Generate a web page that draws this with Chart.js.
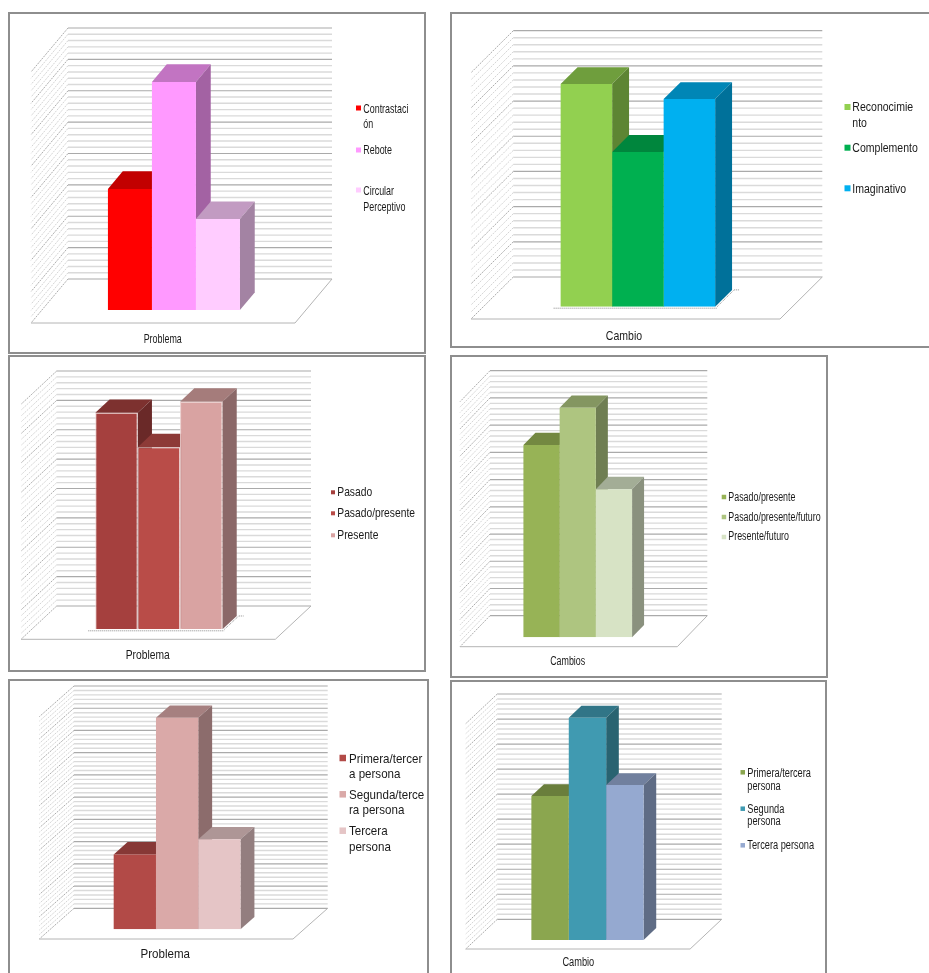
<!DOCTYPE html>
<html>
<head>
<meta charset="utf-8">
<title>Gráficos de barras 3D</title>
<script src="https://cdn.jsdelivr.net/npm/chart.js@4"></script>
<style>
  html, body { margin: 0; padding: 0; background: #fff; width: 929px; height: 973px; overflow: hidden; }
  .frame { position: absolute; box-sizing: border-box; border: 2px solid #8e8e8e; background: #fff; overflow: hidden; }
  .frame canvas { position: absolute; left: 0; top: 0; }
</style>
</head>
<body>
<script>
// Series of each of the six charts
const categoriesA = ["Problema"];
const labelsA = [["Contrastaci", "ón"], ["Rebote"], ["Circular", "Perceptivo"]];
const valuesA = [38.6, 72.7, 29.0];

const categoriesB = ["Cambio"];
const labelsB = [["Reconocimie", "nto"], ["Complemento"], ["Imaginativo"]];
const valuesB = [63.3, 44.0, 59.0];

const categoriesC = ["Problema"];
const labelsC = [["Pasado"], ["Pasado/presente"], ["Presente"]];
const valuesC = [73.7, 62.0, 77.5];

const categoriesD = ["Cambios"];
const labelsD = [["Pasado/presente"], ["Pasado/presente/futuro"], ["Presente/futuro"]];
const valuesD = [70.6, 84.3, 54.4];

const categoriesE = ["Problema"];
const labelsE = [["Primera/tercer", "a persona"], ["Segunda/terce", "ra persona"], ["Tercera", "persona"]];
const valuesE = [33.7, 95.2, 40.5];

const categoriesF = ["Cambio"];
const labelsF = [["Primera/tercera", "persona"], ["Segunda", "persona"], ["Tercera persona"]];
const valuesF = [57.5, 88.8, 61.9];

const SANS = '"Liberation Sans", Arial, sans-serif';

// Page layout: frame box, wall corners, floor edges, bar base, legend and axis label placement
const panels = [
  { categories: categoriesA, labels: labelsA, values: valuesA, colors: ["#FF0000", "#FF99FF", "#FFCCFF"],
    frame: [8, 12, 418, 342], wall: { l: 68, r: 332, t: 28, b: 279 }, floor: { l: 31, y: 323 }, base: 310,
    axisMax: 80, step: 2,
    legend: { font: 13.5, squeeze: 0.66, swatch: 5, sx: 356, tx: 363.3, keys: [108, 150, 190], lines: [[109, 124.5], [150], [191, 207]] },
    cat: { cx: 162.7, cy: 339 }, edge: null, dots: false },
  { categories: categoriesB, labels: labelsB, values: valuesB, colors: ["#92D050", "#00B050", "#00B0F0"],
    frame: [450, 12, 490, 336], wall: { l: 513.3, r: 822.3, t: 30.7, b: 277 }, floor: { l: 471, y: 319 }, base: 306.7,
    axisMax: 70, step: 2,
    legend: { font: 13, squeeze: 0.81, swatch: 6, sx: 844.5, tx: 852.3, keys: [107, 147.7, 188.3], lines: [[107, 123.7], [148.3], [189.3]] },
    cat: { cx: 624, cy: 336 }, edge: null, dots: true },
  { categories: categoriesC, labels: labelsC, values: valuesC, colors: ["#A5403E", "#B94C48", "#D9A3A2"],
    frame: [8, 355, 418, 317], wall: { l: 56.7, r: 311, t: 371, b: 606 }, floor: { l: 21, y: 639.3 }, base: 629.3,
    axisMax: 80, step: 2,
    legend: { font: 13, squeeze: 0.79, swatch: 4, sx: 331, tx: 337.3, keys: [492.3, 513.3, 535.3], lines: [[492.3], [513.3], [535.3]] },
    cat: { cx: 147.7, cy: 655.3 }, edge: "#EBCFCE", dots: true },
  { categories: categoriesD, labels: labelsD, values: valuesD, colors: ["#97B356", "#AEC580", "#D7E3C5"],
    frame: [450, 355, 378, 323], wall: { l: 490, r: 707.3, t: 370.7, b: 615.7 }, floor: { l: 460, y: 646.7 }, base: 637.3,
    axisMax: 90, step: 2,
    legend: { font: 12, squeeze: 0.74, swatch: 4.5, sx: 721.7, tx: 728.3, keys: [497, 517, 537], lines: [[497.3], [517.3], [537]] },
    cat: { cx: 567.7, cy: 662 }, edge: null, dots: false },
  { categories: categoriesE, labels: labelsE, values: valuesE, colors: ["#B24A47", "#DAA9A8", "#E5C5C6"],
    frame: [8, 679, 421, 310], wall: { l: 74, r: 327.7, t: 686, b: 908.3 }, floor: { l: 39.3, y: 939 }, base: 929.3,
    axisMax: 100, step: 2,
    legend: { font: 13, squeeze: 0.89, swatch: 6.5, sx: 339.5, tx: 349, keys: [758, 794.3, 830.7], lines: [[759, 774.3], [795, 810], [831.7, 847.3]] },
    cat: { cx: 165.3, cy: 954.3 }, edge: null, dots: false },
  { categories: categoriesF, labels: labelsF, values: valuesF, colors: ["#8BA64F", "#409AB1", "#95A9D0"],
    frame: [450, 680, 377, 310], wall: { l: 497.3, r: 721.7, t: 694, b: 919.3 }, floor: { l: 465.7, y: 949 }, base: 940,
    axisMax: 90, step: 2,
    legend: { font: 12, squeeze: 0.77, swatch: 4.5, sx: 740.5, tx: 747.3, keys: [772.3, 808.7, 845.3], lines: [[773.3, 786.3], [809.3, 822], [845.3]] },
    cat: { cx: 578.3, cy: 962.3 }, edge: null, dots: false }
];

function shade(hex, k) {
  const n = parseInt(hex.slice(1), 16);
  const c = [(n >> 16) & 255, (n >> 8) & 255, n & 255].map(v => Math.round(v * k));
  return `rgb(${c[0]},${c[1]},${c[2]})`;
}

function quad(ctx, pts, fill) {
  ctx.beginPath();
  pts.forEach((p, i) => i ? ctx.lineTo(p[0], p[1]) : ctx.moveTo(p[0], p[1]));
  ctx.closePath();
  ctx.fillStyle = fill;
  ctx.fill();
}

// Perspective walls, floor and the top and side faces of each bar
const depthPlugin = {
  id: 'depth',
  beforeDatasetsDraw(chart, args, opts) {
    const { ctx, chartArea: a, scales: { y } } = chart;
    const { back, front, depth, majorEvery, dots } = opts;
    ctx.save();
    y.ticks.forEach(t => {
      const py = y.getPixelForValue(t.value);
      const major = Math.round(t.value / y.options.ticks.stepSize) % majorEvery === 0;
      ctx.lineWidth = major ? 1.2 : 1.4;
      ctx.setLineDash([]);
      ctx.strokeStyle = major ? '#aaaaaa' : '#dadada';
      ctx.beginPath();
      ctx.moveTo(a.left + back.dx, py - back.dy);
      ctx.lineTo(a.right + back.dx, py - back.dy);
      ctx.stroke();
      ctx.lineWidth = 1;
      ctx.setLineDash([2, 1]);
      ctx.strokeStyle = major ? '#acacac' : '#d4d4d4';
      ctx.beginPath();
      ctx.moveTo(a.left + back.dx, py - back.dy);
      ctx.lineTo(a.left - front.dx, py + front.dy);
      ctx.stroke();
    });
    ctx.setLineDash([]);
    ctx.lineWidth = 1;
    ctx.strokeStyle = '#b4b4b4';
    ctx.beginPath();
    ctx.moveTo(a.left - front.dx, a.bottom + front.dy);
    ctx.lineTo(a.right - front.dx, a.bottom + front.dy);
    ctx.lineTo(a.right + back.dx, a.bottom - back.dy);
    ctx.stroke();

    const metas = chart.data.datasets.map((ds, i) => chart.getDatasetMeta(i).data[0]);
    if (dots) {
      // Fine dotted trace left around the foot of the bars
      const first = metas[0], last = metas[metas.length - 1];
      const xa = first.x - first.width / 2 - 7, xb = last.x + last.width / 2 + 2;
      ctx.strokeStyle = '#8a8a8a';
      ctx.setLineDash([1, 1]);
      ctx.beginPath();
      ctx.moveTo(xa, a.bottom + 1.5);
      ctx.lineTo(xb, a.bottom + 1.5);
      ctx.moveTo(xb, a.bottom);
      ctx.lineTo(xb + depth.dx, a.bottom - depth.dy);
      ctx.lineTo(xb + depth.dx + 5, a.bottom - depth.dy);
      ctx.stroke();
      ctx.setLineDash([]);
    }

    chart.data.datasets.forEach((ds, i) => {
      const bar = metas[i];
      const half = bar.width / 2;
      const x0 = bar.x - half, x1 = bar.x + half, top = bar.y, bottom = bar.base;
      quad(ctx, [[x0, top], [x1, top], [x1 + depth.dx, top - depth.dy], [x0 + depth.dx, top - depth.dy]], shade(ds.backgroundColor, 0.76));
      quad(ctx, [[x1, top], [x1 + depth.dx, top - depth.dy], [x1 + depth.dx, bottom - depth.dy], [x1, bottom]], shade(ds.backgroundColor, 0.64));
    });
    ctx.restore();
  }
};

function squeezedText(ctx, text, x, y, squeeze) {
  ctx.save();
  ctx.translate(x, y);
  ctx.scale(squeeze, 1);
  ctx.fillText(text, 0, 0);
  ctx.restore();
}

// Key and category label, both in squeezed text; the key lines are wrapped by hand
const keyPlugin = {
  id: 'key',
  afterDraw(chart, args, opts) {
    const { ctx } = chart;
    const { legend, origin, labels, textColor, cat } = opts;
    ctx.save();
    ctx.translate(-origin[0], -origin[1]);
    ctx.font = `${legend.font}px ${SANS}`;
    ctx.textBaseline = 'middle';
    chart.data.datasets.forEach((ds, i) => {
      ctx.fillStyle = ds.backgroundColor;
      ctx.fillRect(legend.sx, legend.keys[i] - legend.swatch / 2, legend.swatch, legend.swatch);
      ctx.fillStyle = textColor;
      ctx.textAlign = 'left';
      labels[i].forEach((line, j) => squeezedText(ctx, line, legend.tx, legend.lines[i][j], legend.squeeze));
    });
    ctx.fillStyle = textColor;
    ctx.textAlign = 'center';
    squeezedText(ctx, chart.data.labels[0], cat.cx, cat.cy, legend.squeeze);
    ctx.restore();
  }
};

panels.forEach(p => {
  const [fx, fy, fw, fh] = p.frame;
  const box = document.createElement('div');
  box.className = 'frame';
  box.style.cssText = `left:${fx}px;top:${fy}px;width:${fw}px;height:${fh}px;`;
  const canvas = document.createElement('canvas');
  const ox = fx + 2, oy = fy + 2;       // canvas origin inside the border
  canvas.width = fw - 4;
  canvas.height = fh - 4;
  canvas.style.width = (fw - 4) + 'px';
  canvas.style.height = (fh - 4) + 'px';
  box.appendChild(canvas);
  document.body.appendChild(box);

  // The plot area is the plane of the bar fronts; walls and floor are offset from it
  const floorDx = p.wall.l - p.floor.l;
  const floorDy = p.floor.y - p.wall.b;
  const frac = (p.floor.y - p.base) / floorDy;
  const front = { dx: floorDx * frac, dy: floorDy * frac };
  const back = { dx: floorDx * (1 - frac), dy: floorDy * (1 - frac) };
  const plotLeft = p.floor.l + front.dx;
  const plotRight = plotLeft + (p.wall.r - p.wall.l);
  const plotTop = p.base - (p.wall.b - p.wall.t);
  const depth = { dx: floorDx * 0.4, dy: floorDy * 0.4 };

  new Chart(canvas, {
    type: 'bar',
    data: {
      labels: p.categories,
      datasets: p.labels.map((lines, i) => ({
        label: lines.join(' '),
        data: [p.values[i]],
        backgroundColor: p.colors[i],
        borderColor: p.edge || p.colors[i],
        borderWidth: p.edge ? 1 : 0,
        categoryPercentage: 0.5,
        barPercentage: 1
      }))
    },
    options: {
      responsive: false,
      animation: false,
      events: [],
      layout: {
        padding: {
          left: plotLeft - ox,
          right: canvas.width - (plotRight - ox),
          top: plotTop - oy,
          bottom: canvas.height - (p.base - oy)
        }
      },
      scales: {
        x: { display: false },
        y: {
          display: false,
          min: 0,
          max: p.axisMax,
          ticks: { display: false, stepSize: p.step, autoSkip: false, maxTicksLimit: 200 }
        }
      },
      plugins: {
        legend: { display: false },
        tooltip: { enabled: false },
        title: { display: false },
        depth: { back, front, depth, majorEvery: 5, dots: p.dots },
        key: { legend: p.legend, origin: [ox, oy], labels: p.labels, textColor: '#1a1a1a', cat: p.cat }
      }
    },
    plugins: [depthPlugin, keyPlugin]
  });
});
</script>
</body>
</html>
